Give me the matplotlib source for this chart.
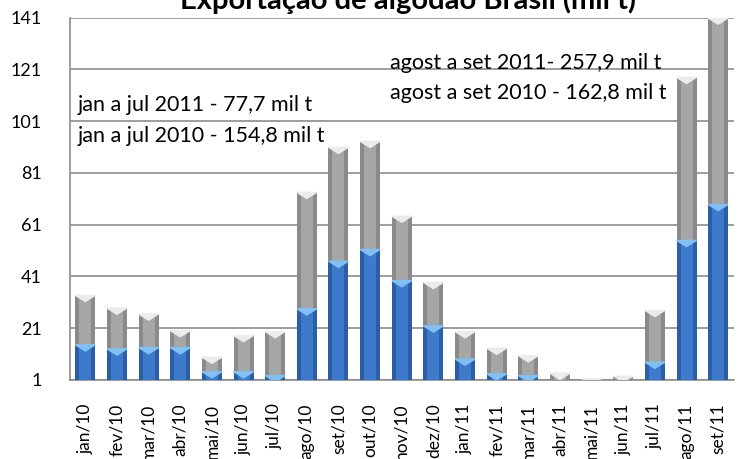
import matplotlib.pyplot as plt
from matplotlib.patches import Polygon
import numpy as np

# data (mil t)
months = ["jan/10", "fev/10", "mar/10", "abr/10", "mai/10", "jun/10", "jul/10",
          "ago/10", "set/10", "out/10", "nov/10", "dez/10", "jan/11", "fev/11",
          "mar/11", "abr/11", "mai/11", "jun/11", "jul/11", "ago/11", "set/11"]
blueValues = [14.6, 13.0, 13.5, 13.5, 4.2, 4.2, 2.7,
              28.5, 46.9, 51.4, 39.4, 21.9, 9.1, 3.4,
              2.7, 0.4, 0.3, 0.4, 7.9, 54.9, 68.8]
totalValues = [33.7, 28.8, 26.5, 20.1, 9.8, 18.2, 19.7,
               73.5, 90.9, 93.2, 64.3, 38.7, 19.7, 13.3,
               10.4, 3.6, 1.5, 2.5, 27.9, 117.9, 140.8]
greyValues = [t - b for t, b in zip(totalValues, blueValues)]
yTicks = [1, 21, 41, 61, 81, 101, 121, 141]
notes = ["jan a jul 2011 - 77,7 mil t", "jan a jul 2010 - 154,8 mil t",
         "agost a set 2011- 257,9 mil t", "agost a set 2010 - 162,8 mil t"]

plt.rcParams['font.family'] = ['Lato', 'DejaVu Sans']

fig = plt.figure(figsize=(7.39, 4.59), dpi=100)
ax = fig.add_axes([69.5 / 739, 1 - 380 / 459, (734 - 69.5) / 739, (380 - 17.5) / 459])

x = np.arange(len(months))
width = 0.63


def drawSegment(xs, bottoms, heights, dark, light, cap):
    ax.bar(xs, heights, width, bottom=bottoms, color=dark, zorder=3)
    ax.bar(xs, heights, width * 0.6, bottom=bottoms, color=light, zorder=3)
    for xi, b, h in zip(xs, bottoms, heights):
        ch = min(h, 2.4)
        top = b + h
        tri = Polygon([(xi - width / 2, top), (xi + width / 2, top), (xi, top - ch)],
                      closed=True, color=cap, zorder=4)
        ax.add_patch(tri)


drawSegment(x, [0] * len(x), blueValues, "#2c5ea6", "#3d7acb", "#80c0f4")
drawSegment(x, blueValues, greyValues, "#8a8a8a", "#a6a6a6", "#ececec")

ax.set_ylim(1, 141)
ax.set_xlim(-0.5, len(months) - 0.5)
ax.set_yticks(yTicks)
ax.set_xticks(x)
ax.set_xticklabels(months, rotation=90, va='top', fontsize=12.5)
ax.tick_params(axis='y', length=0, pad=20, labelsize=13)
ax.tick_params(axis='x', length=0, pad=17)
ax.yaxis.grid(True, color="#8c8c8c", linewidth=1.2, zorder=0)
for s in ["top", "right"]:
    ax.spines[s].set_visible(False)
ax.spines["left"].set_color("#8c8c8c")
ax.spines["bottom"].set_color("#8c8c8c")
ax.spines["left"].set_linewidth(1.2)
ax.spines["bottom"].set_linewidth(1.2)

fig.text(408 / 739, 1 - 9 / 459, "Exportação de algodão Brasil (mil t)",
         ha='center', va='baseline', fontsize=21, fontweight='bold')

ax.text(78 / 739, 1 - 105 / 459, notes[0], transform=fig.transFigure,
        va='center', fontsize=15.5)
ax.text(78 / 739, 1 - 136 / 459, notes[1], transform=fig.transFigure,
        va='center', fontsize=15.5)
ax.text(390 / 739, 1 - 63 / 459, notes[2], transform=fig.transFigure,
        va='center', fontsize=15.5)
ax.text(390 / 739, 1 - 93 / 459, notes[3], transform=fig.transFigure,
        va='center', fontsize=15.5)

fig.savefig("out.png", dpi=100)
